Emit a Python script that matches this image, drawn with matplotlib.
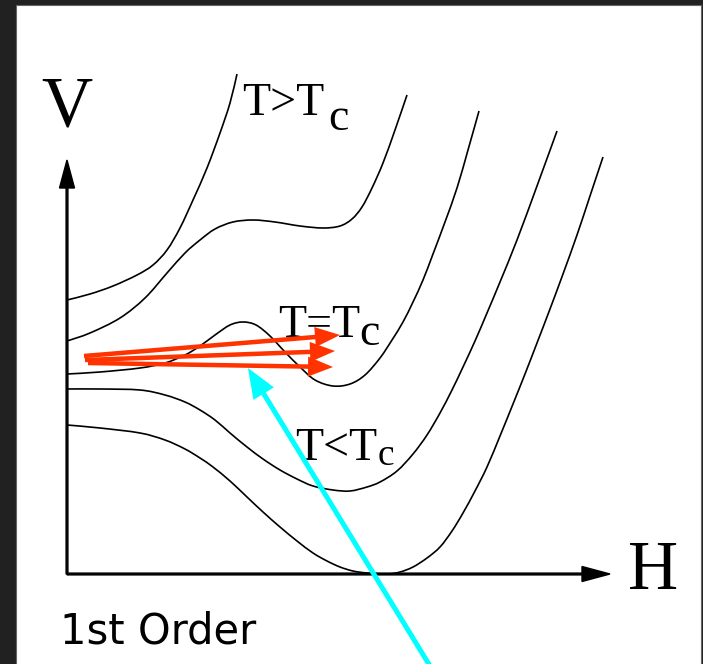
import matplotlib
matplotlib.use("Agg")
import matplotlib.pyplot as plt
from matplotlib.patches import Rectangle, PathPatch
from matplotlib.path import Path

# potential V(H) curves, origin at the corner of the two axes
h1 = [0, 23, 46, 70, 86, 100, 113, 126, 140, 153, 163, 170]
v1 = [274, 280, 288, 299, 309, 324, 346, 374, 406, 441, 471, 500]

h2 = [0, 23, 53, 78, 100, 118, 133, 148, 166, 186, 208, 233, 256, 273, 285, 295, 305, 316, 328, 340]
v2 = [233, 241, 256, 276, 301, 321, 334, 345, 352, 354, 352, 348, 346, 348, 355, 367, 386, 411, 444, 479]

h3 = [0, 33, 73, 98, 118, 133, 148, 163, 176, 189, 203, 218, 233, 248, 266, 283, 298, 313, 325, 336,
      346, 356, 366, 378, 390, 401, 412]
v3 = [200, 202, 206, 211, 219, 228, 239, 249, 252, 249, 238, 222, 207, 194, 188, 190, 199, 216, 234, 252,
      272, 294, 320, 352, 386, 424, 463]

h4 = [0, 33, 73, 98, 118, 133, 148, 163, 180, 196, 213, 230, 246, 266, 283, 300, 313, 330, 346, 360,
      373, 385, 396, 408, 420, 433, 450, 470, 490]
v4 = [185, 185, 184, 179, 172, 164, 154, 141, 127, 115, 104, 95, 88, 84, 83, 87, 92, 103, 120, 139,
      161, 184, 207, 233, 261, 292, 334, 388, 443]

h5 = [0, 33, 73, 98, 118, 133, 146, 163, 180, 196, 213, 230, 246, 260, 273, 286, 300, 320, 333, 346,
      360, 373, 385, 396, 408, 420, 433, 446, 458, 470, 483, 496, 510, 523, 536]
v5 = [149, 146, 141, 134, 125, 116, 107, 93, 77, 62, 47, 33, 21, 13, 7, 3, 1, 0, 2, 7,
      16, 27, 43, 61, 83, 107, 138, 170, 200, 231, 265, 300, 339, 378, 417]

curves = [(h1, v1), (h2, v2), (h3, v3), (h4, v4), (h5, v5)]

# red arrows (tail -> head) and the cyan pointer
red_tails = [(17, 218), (18, 214), (21, 211)]
red_heads = [(273, 239), (268, 223), (266, 207)]
cyan_tail = (363, -92)
cyan_head = (181, 206)


def smooth_path(xs, ys):
    # Catmull-Rom style bezier through the given points
    pts = list(zip(xs, ys))
    verts = [pts[0]]
    codes = [Path.MOVETO]
    for i in range(len(pts) - 1):
        p0 = pts[i - 1] if i > 0 else pts[i]
        p1 = pts[i]
        p2 = pts[i + 1]
        p3 = pts[i + 2] if i + 2 < len(pts) else pts[i + 1]
        c1 = (p1[0] + (p2[0] - p0[0]) / 6, p1[1] + (p2[1] - p0[1]) / 6)
        c2 = (p2[0] - (p3[0] - p1[0]) / 6, p2[1] - (p3[1] - p1[1]) / 6)
        verts += [c1, c2, p2]
        codes += [Path.CURVE4] * 3
    return Path(verts, codes)


fig = plt.figure(figsize=(7.03, 6.64), dpi=100, facecolor="#212121")
ax = fig.add_axes([0, 0, 1, 1])
ax.set_xlim(-67, 636)
ax.set_ylim(-90, 574)
ax.axis("off")

ax.add_patch(Rectangle((-51, -91), 685, 660, facecolor="white", edgecolor="#666666", lw=0.8, zorder=0))

for h, v in curves:
    ax.add_patch(PathPatch(smooth_path(h, v), facecolor="none", edgecolor="black", lw=1.2, zorder=2))

# axes with arrow heads
ax.arrow(0, 0, 0, 414, width=1.8, head_width=15, head_length=28,
         length_includes_head=True, color="black", zorder=3)
ax.arrow(0, 0, 543, 0, width=1.8, head_width=15, head_length=28,
         length_includes_head=True, color="black", zorder=3)

serif = "Liberation Serif"
ax.text(0, 466, "V", fontsize=51, family=serif, ha="center", va="center")
ax.text(586, 2, "H", fontsize=50, family=serif, ha="center", va="center")

ax.text(175, 459, "T>T", fontsize=33, family=serif, ha="left", va="baseline")
ax.text(261, 444, "c", fontsize=33, family=serif, ha="left", va="baseline")
ax.text(211, 237, "T=T", fontsize=33, family=serif, ha="left", va="baseline", zorder=1)
ax.text(292, 229, "c", fontsize=33, family=serif, ha="left", va="baseline", zorder=1)
ax.text(228, 114, "T<T", fontsize=33, family=serif, ha="left", va="baseline")
ax.text(311, 109, "c", fontsize=27, family=serif, ha="left", va="baseline")

ax.text(-7, -69, "1st Order", fontsize=30, family="DejaVu Sans", ha="left", va="baseline")

for (x0, y0), (x1, y1) in zip(red_tails, red_heads):
    ax.arrow(x0, y0, x1 - x0, y1 - y0, width=4.5, head_width=20, head_length=25,
             length_includes_head=True, color="#ff3300", lw=0, zorder=4)

ax.arrow(cyan_tail[0], cyan_tail[1], cyan_head[0] - cyan_tail[0], cyan_head[1] - cyan_tail[1],
         width=5, head_width=24, head_length=30, length_includes_head=True,
         color="#00ffff", lw=0, zorder=4)

fig.savefig("out.png", dpi=100, facecolor=fig.get_facecolor())
